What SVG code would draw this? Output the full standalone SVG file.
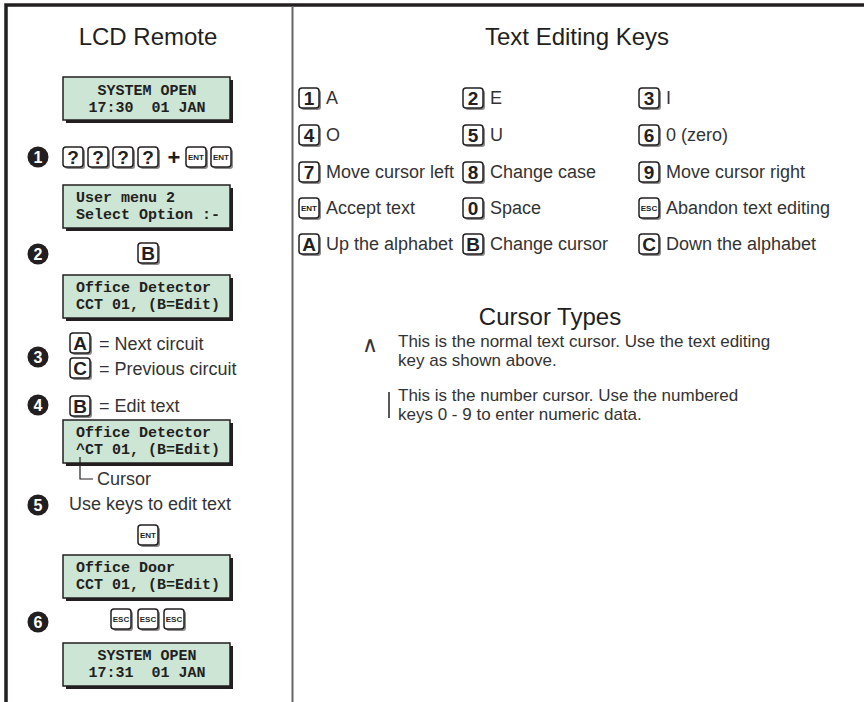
<svg xmlns="http://www.w3.org/2000/svg" width="864" height="702" viewBox="0 0 864 702">
<style>
.frame{fill:none;stroke:#231f20;stroke-width:3.5}
.div{stroke:#666;stroke-width:2}
.title{font-family:"Liberation Sans",Arial,sans-serif;font-size:24px;fill:#231f20;text-anchor:middle}
.lcdsh{fill:#231f20}
.lcd{fill:#cce5d4;stroke:#231f20;stroke-width:1.5}
.mono{font-family:"Liberation Mono","Courier New",monospace;font-weight:bold;font-size:15px;fill:#231f20;white-space:pre}
.c{text-anchor:middle}
.ks{fill:#8c8c8c}
.kb{fill:#fff;stroke:#231f20;stroke-width:1.5}
.kl{font-family:"Liberation Sans",Arial,sans-serif;font-weight:bold;font-size:19px;fill:#231f20;text-anchor:middle}
.ksm{font-family:"Liberation Sans",Arial,sans-serif;font-weight:bold;font-size:8px;fill:#231f20;text-anchor:middle}
.num{fill:#231f20}
.nt{font-family:"Liberation Sans",Arial,sans-serif;font-weight:bold;font-size:16px;fill:#fff;text-anchor:middle}
.t{font-family:"Liberation Sans",Arial,sans-serif;font-size:18px;fill:#333}
.p{font-family:"Liberation Sans",Arial,sans-serif;font-size:17px;fill:#333}
.plus{font-family:"Liberation Sans",Arial,sans-serif;font-weight:bold;font-size:22px;fill:#231f20;text-anchor:middle}
.conn{fill:none;stroke:#231f20;stroke-width:1.2}
</style>

<g id="frame">
  <path class="frame" d="M6,702 V5 H864"/>
  <line class="div" x1="292.5" y1="6" x2="292.5" y2="702"/>
</g>

<!-- LEFT PANEL -->
<g id="title-lcd"><text class="title" x="148" y="45">LCD Remote</text></g>

<g id="lcd1">
  <rect class="lcdsh" x="66" y="80" width="167" height="43"/>
  <rect class="lcd" x="63" y="77" width="167" height="43"/>
  <text class="mono c" x="147" y="95">SYSTEM OPEN</text>
  <text class="mono c" x="147" y="112">17:30  01 JAN</text>
</g>

<g id="step1">
  <circle class="num" cx="38" cy="157" r="10.5"/><text class="nt" x="38" y="162.5">1</text>
  <rect class="ks" x="65" y="149" width="20" height="20" rx="3"/><rect class="kb" x="63" y="147" width="20" height="20" rx="3"/><text class="kl" x="73" y="164">?</text>
  <rect class="ks" x="90" y="149" width="20" height="20" rx="3"/><rect class="kb" x="88" y="147" width="20" height="20" rx="3"/><text class="kl" x="98" y="164">?</text>
  <rect class="ks" x="115" y="149" width="20" height="20" rx="3"/><rect class="kb" x="113" y="147" width="20" height="20" rx="3"/><text class="kl" x="123" y="164">?</text>
  <rect class="ks" x="140" y="149" width="20" height="20" rx="3"/><rect class="kb" x="138" y="147" width="20" height="20" rx="3"/><text class="kl" x="148" y="164">?</text>
  <text class="plus" x="174" y="165">+</text>
  <rect class="ks" x="188" y="149" width="20" height="20" rx="3"/><rect class="kb" x="186" y="147" width="20" height="20" rx="3"/><text class="ksm" x="196" y="160">ENT</text>
  <rect class="ks" x="213" y="149" width="20" height="20" rx="3"/><rect class="kb" x="211" y="147" width="20" height="20" rx="3"/><text class="ksm" x="221" y="160">ENT</text>
</g>

<g id="lcd2">
  <rect class="lcdsh" x="66" y="188" width="167" height="43"/>
  <rect class="lcd" x="63" y="185" width="167" height="43"/>
  <text class="mono" x="76" y="202">User menu 2</text>
  <text class="mono" x="76" y="219">Select Option :-</text>
</g>

<g id="step2">
  <circle class="num" cx="38" cy="254" r="10.5"/><text class="nt" x="38" y="259.5">2</text>
  <rect class="ks" x="140" y="245" width="20" height="20" rx="3"/><rect class="kb" x="138" y="243" width="20" height="20" rx="3"/><text class="kl" x="148" y="260">B</text>
</g>

<g id="lcd3">
  <rect class="lcdsh" x="66" y="278" width="167" height="43"/>
  <rect class="lcd" x="63" y="275" width="167" height="43"/>
  <text class="mono" x="76" y="292">Office Detector</text>
  <text class="mono" x="76" y="309">CCT 01, (B=Edit)</text>
</g>

<g id="step3">
  <circle class="num" cx="38" cy="357" r="10.5"/><text class="nt" x="38" y="362.5">3</text>
  <rect class="ks" x="72" y="335" width="20" height="20" rx="3"/><rect class="kb" x="70" y="333" width="20" height="20" rx="3"/><text class="kl" x="80" y="350">A</text>
  <text class="t" x="99" y="350">= Next circuit</text>
  <rect class="ks" x="72" y="360" width="20" height="20" rx="3"/><rect class="kb" x="70" y="358" width="20" height="20" rx="3"/><text class="kl" x="80" y="375">C</text>
  <text class="t" x="99" y="375">= Previous circuit</text>
</g>

<g id="step4">
  <circle class="num" cx="38" cy="405" r="10.5"/><text class="nt" x="38" y="410.5">4</text>
  <rect class="ks" x="72" y="398" width="20" height="20" rx="3"/><rect class="kb" x="70" y="396" width="20" height="20" rx="3"/><text class="kl" x="80" y="413">B</text>
  <text class="t" x="99" y="412">= Edit text</text>
</g>

<g id="lcd4">
  <rect class="lcdsh" x="66" y="423" width="167" height="43"/>
  <rect class="lcd" x="63" y="420" width="167" height="43"/>
  <text class="mono" x="76" y="437">Office Detector</text>
  <text class="mono" x="76" y="454">^CT 01, (B=Edit)</text>
</g>

<g id="connectors">
  <path class="conn" d="M80,457 V479 H93"/>
</g>

<g id="cursor-label"><text class="t" x="97" y="485">Cursor</text></g>

<g id="step5">
  <circle class="num" cx="38" cy="505" r="10.5"/><text class="nt" x="38" y="510.5">5</text>
  <text class="t" x="69" y="510">Use keys to edit text</text>
  <rect class="ks" x="140" y="527" width="20" height="20" rx="3"/><rect class="kb" x="138" y="525" width="20" height="20" rx="3"/><text class="ksm" x="148" y="538">ENT</text>
</g>

<g id="lcd5">
  <rect class="lcdsh" x="66" y="558" width="167" height="43"/>
  <rect class="lcd" x="63" y="555" width="167" height="43"/>
  <text class="mono" x="76" y="572">Office Door</text>
  <text class="mono" x="76" y="589">CCT 01, (B=Edit)</text>
</g>

<g id="step6">
  <circle class="num" cx="38" cy="622" r="10.5"/><text class="nt" x="38" y="627.5">6</text>
  <rect class="ks" x="113" y="611" width="20" height="20" rx="3"/><rect class="kb" x="111" y="609" width="20" height="20" rx="3"/><text class="ksm" x="121" y="622">ESC</text>
  <rect class="ks" x="140" y="611" width="20" height="20" rx="3"/><rect class="kb" x="138" y="609" width="20" height="20" rx="3"/><text class="ksm" x="148" y="622">ESC</text>
  <rect class="ks" x="166" y="611" width="20" height="20" rx="3"/><rect class="kb" x="164" y="609" width="20" height="20" rx="3"/><text class="ksm" x="174" y="622">ESC</text>
</g>

<g id="lcd6">
  <rect class="lcdsh" x="66" y="646" width="167" height="43"/>
  <rect class="lcd" x="63" y="643" width="167" height="43"/>
  <text class="mono c" x="147" y="660">SYSTEM OPEN</text>
  <text class="mono c" x="147" y="677">17:31  01 JAN</text>
</g>

<!-- RIGHT PANEL -->
<g id="title-keys"><text class="title" x="577" y="45">Text Editing Keys</text></g>

<g id="key-table">
  <!-- row 1 -->
  <rect class="ks" x="301" y="90" width="20" height="20" rx="3"/><rect class="kb" x="299" y="88" width="20" height="20" rx="3"/><text class="kl" x="309" y="105">1</text><text class="t" x="326" y="104">A</text>
  <rect class="ks" x="465" y="90" width="20" height="20" rx="3"/><rect class="kb" x="463" y="88" width="20" height="20" rx="3"/><text class="kl" x="473" y="105">2</text><text class="t" x="490" y="104">E</text>
  <rect class="ks" x="641" y="90" width="20" height="20" rx="3"/><rect class="kb" x="639" y="88" width="20" height="20" rx="3"/><text class="kl" x="649" y="105">3</text><text class="t" x="666" y="104">I</text>
  <!-- row 2 -->
  <rect class="ks" x="301" y="127" width="20" height="20" rx="3"/><rect class="kb" x="299" y="125" width="20" height="20" rx="3"/><text class="kl" x="309" y="142">4</text><text class="t" x="326" y="141">O</text>
  <rect class="ks" x="465" y="127" width="20" height="20" rx="3"/><rect class="kb" x="463" y="125" width="20" height="20" rx="3"/><text class="kl" x="473" y="142">5</text><text class="t" x="490" y="141">U</text>
  <rect class="ks" x="641" y="127" width="20" height="20" rx="3"/><rect class="kb" x="639" y="125" width="20" height="20" rx="3"/><text class="kl" x="649" y="142">6</text><text class="t" x="666" y="141">0 (zero)</text>
  <!-- row 3 -->
  <rect class="ks" x="301" y="164" width="20" height="20" rx="3"/><rect class="kb" x="299" y="162" width="20" height="20" rx="3"/><text class="kl" x="309" y="179">7</text><text class="t" x="326" y="178">Move cursor left</text>
  <rect class="ks" x="465" y="164" width="20" height="20" rx="3"/><rect class="kb" x="463" y="162" width="20" height="20" rx="3"/><text class="kl" x="473" y="179">8</text><text class="t" x="490" y="178">Change case</text>
  <rect class="ks" x="641" y="164" width="20" height="20" rx="3"/><rect class="kb" x="639" y="162" width="20" height="20" rx="3"/><text class="kl" x="649" y="179">9</text><text class="t" x="666" y="178">Move cursor right</text>
  <!-- row 4 -->
  <rect class="ks" x="301" y="200" width="20" height="20" rx="3"/><rect class="kb" x="299" y="198" width="20" height="20" rx="3"/><text class="ksm" x="309" y="211">ENT</text><text class="t" x="326" y="214">Accept text</text>
  <rect class="ks" x="465" y="200" width="20" height="20" rx="3"/><rect class="kb" x="463" y="198" width="20" height="20" rx="3"/><text class="kl" x="473" y="215">0</text><text class="t" x="490" y="214">Space</text>
  <rect class="ks" x="641" y="200" width="20" height="20" rx="3"/><rect class="kb" x="639" y="198" width="20" height="20" rx="3"/><text class="ksm" x="649" y="211">ESC</text><text class="t" x="666" y="214">Abandon text editing</text>
  <!-- row 5 -->
  <rect class="ks" x="301" y="236" width="20" height="20" rx="3"/><rect class="kb" x="299" y="234" width="20" height="20" rx="3"/><text class="kl" x="309" y="251">A</text><text class="t" x="326" y="250">Up the alphabet</text>
  <rect class="ks" x="465" y="236" width="20" height="20" rx="3"/><rect class="kb" x="463" y="234" width="20" height="20" rx="3"/><text class="kl" x="473" y="251">B</text><text class="t" x="490" y="250">Change cursor</text>
  <rect class="ks" x="641" y="236" width="20" height="20" rx="3"/><rect class="kb" x="639" y="234" width="20" height="20" rx="3"/><text class="kl" x="649" y="251">C</text><text class="t" x="666" y="250">Down the alphabet</text>
</g>

<g id="title-cursor"><text class="title" x="550" y="325">Cursor Types</text></g>

<g id="cursor-normal">
  <text class="p" x="370" y="352" text-anchor="middle" style="font-size:22px">∧</text>
  <text class="p" x="398" y="347">This is the normal text cursor. Use the text editing</text>
  <text class="p" x="398" y="366">key as shown above.</text>
</g>

<g id="cursor-number">
  <line x1="389" y1="392" x2="389" y2="418" stroke="#231f20" stroke-width="1.5"/>
  <text class="p" x="398" y="401">This is the number cursor. Use the numbered</text>
  <text class="p" x="398" y="420">keys 0 - 9 to enter numeric data.</text>
</g>
</svg>
